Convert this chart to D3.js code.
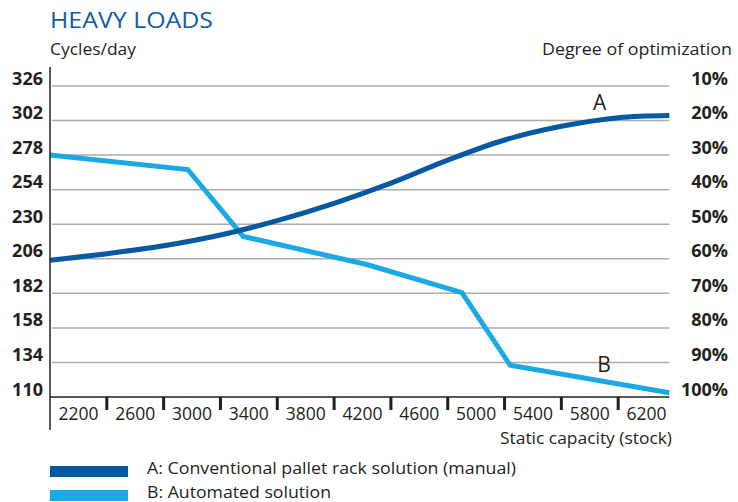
<!DOCTYPE html>
<html>
<head>
<meta charset="utf-8">
<script src="https://cdn.jsdelivr.net/npm/d3@7"></script>
<style>
  body { margin: 0; background: #fff; }
  text { font-family: "Open Sans", sans-serif; fill: #231f20; }
</style>
</head>
<body>
<div id="chart"></div>
<script>
// Chart values
const capacityTicks = [2200, 2600, 3000, 3400, 3800, 4200, 4600, 5000, 5400, 5800, 6200];
const cycleTicks = [110, 134, 158, 182, 206, 230, 254, 278, 302, 326];
const optimizationLabels = ['100%', '90%', '80%', '70%', '60%', '50%', '40%', '30%', '20%', '10%'];

const seriesA = [
  [2000, 205], [2400, 209.5], [2800, 215], [3200, 222.5], [3600, 232.5], [4000, 244.5],
  [4400, 258.5], [4800, 274.5], [5200, 288.5], [5600, 298], [6000, 304], [6360, 305.5]
];
const seriesB = [
  [2000, 278], [2970, 268], [3360, 221.5], [4230, 202], [4900, 182.5], [5240, 132], [6360, 113]
];
const legendItems = [
  { label: 'A: Conventional pallet rack solution (manual)', color: '#0559a2' },
  { label: 'B: Automated solution', color: '#1aa9e6' }
];

const w = 738, h = 502;

const svg = d3.select('#chart')
  .append('svg')
  .attr('width', w)
  .attr('height', h);

// Scales
const xScale = d3.scaleLinear()
  .domain([2000, 6400])
  .range([50, 675]);

const yScale = d3.scaleLinear()
  .domain([110, 326])
  .range([397, 86]);

const xEnd = xScale(6360);

// Titles
svg.append('text')
  .attr('x', 50).attr('y', 28)
  .style('font-size', '22px')
  .style('fill', '#0f5ca8')
  .attr('textLength', 163)
  .attr('lengthAdjust', 'spacingAndGlyphs')
  .text('HEAVY LOADS');

svg.append('text')
  .attr('x', 50).attr('y', 55)
  .style('font-size', '16px')
  .attr('textLength', 86)
  .attr('lengthAdjust', 'spacingAndGlyphs')
  .text('Cycles/day');

svg.append('text')
  .attr('x', 732).attr('y', 55)
  .attr('text-anchor', 'end')
  .style('font-size', '16px')
  .attr('textLength', 190)
  .attr('lengthAdjust', 'spacingAndGlyphs')
  .text('Degree of optimization');

// Gridlines
svg.append('g')
  .selectAll('line')
  .data(cycleTicks.slice(1))
  .enter()
  .append('line')
  .attr('x1', 52).attr('x2', xEnd)
  .attr('y1', d => yScale(d)).attr('y2', d => yScale(d))
  .attr('stroke', '#ababab')
  .attr('stroke-width', 1.5);

// Left axis labels
svg.append('g')
  .selectAll('text')
  .data(cycleTicks)
  .enter()
  .append('text')
  .attr('x', 43)
  .attr('y', d => yScale(d) - 1.5)
  .attr('text-anchor', 'end')
  .style('font-size', '18px')
  .style('font-weight', 'bold')
  .text(d => d);

// Right axis labels
svg.append('g')
  .selectAll('text')
  .data(cycleTicks)
  .enter()
  .append('text')
  .attr('x', 728)
  .attr('y', d => yScale(d) - 1.5)
  .attr('text-anchor', 'end')
  .style('font-size', '18px')
  .style('font-weight', 'bold')
  .text((d, i) => optimizationLabels[i]);

// Lines
const lineB = d3.line()
  .x(d => xScale(d[0]))
  .y(d => yScale(d[1]));

const lineA = d3.line()
  .x(d => xScale(d[0]))
  .y(d => yScale(d[1]))
  .curve(d3.curveCatmullRom.alpha(0.5));

svg.append('path')
  .datum(seriesB)
  .attr('fill', 'none')
  .attr('stroke', legendItems[1].color)
  .attr('stroke-width', 5)
  .attr('d', lineB);

svg.append('path')
  .datum(seriesA)
  .attr('fill', 'none')
  .attr('stroke', legendItems[0].color)
  .attr('stroke-width', 5)
  .attr('d', lineA);

// Series letters
svg.append('text')
  .attr('x', xScale(5870)).attr('y', 110)
  .attr('text-anchor', 'middle')
  .style('font-size', '21px')
  .text('A');

svg.append('text')
  .attr('x', xScale(5900)).attr('y', 372)
  .attr('text-anchor', 'middle')
  .style('font-size', '21px')
  .text('B');

// Axes
svg.append('line')
  .attr('x1', 50).attr('x2', 50)
  .attr('y1', 67).attr('y2', 430)
  .attr('stroke', '#231f20')
  .attr('stroke-width', 1.5);

svg.append('line')
  .attr('x1', 50).attr('x2', xEnd)
  .attr('y1', yScale(110)).attr('y2', yScale(110))
  .attr('stroke', '#231f20')
  .attr('stroke-width', 1.5);

// X tick separators between labels
svg.append('g')
  .selectAll('line')
  .data(capacityTicks.slice(0, -1).map(d => d + 200))
  .enter()
  .append('line')
  .attr('x1', d => xScale(d)).attr('x2', d => xScale(d))
  .attr('y1', yScale(110)).attr('y2', yScale(110) + 13)
  .attr('stroke', '#231f20')
  .attr('stroke-width', 3);

svg.append('g')
  .selectAll('text')
  .data(capacityTicks)
  .enter()
  .append('text')
  .attr('x', d => xScale(d))
  .attr('y', 420)
  .attr('text-anchor', 'middle')
  .style('font-size', '17.5px')
  .text(d => d);

svg.append('text')
  .attr('x', 672).attr('y', 444)
  .attr('text-anchor', 'end')
  .style('font-size', '16px')
  .attr('textLength', 172)
  .attr('lengthAdjust', 'spacingAndGlyphs')
  .text('Static capacity (stock)');

// Legend
const legend = svg.append('g')
  .selectAll('g')
  .data(legendItems)
  .enter()
  .append('g')
  .attr('transform', (d, i) => 'translate(50,' + (466 + i * 24) + ')');

legend.append('rect')
  .attr('width', 78).attr('height', 11)
  .attr('fill', d => d.color);

legend.append('text')
  .attr('x', 97).attr('y', 7.5)
  .style('font-size', '16px')
  .attr('textLength', (d, i) => i === 0 ? 369 : 184)
  .attr('lengthAdjust', 'spacingAndGlyphs')
  .text(d => d.label);
</script>
</body>
</html>
